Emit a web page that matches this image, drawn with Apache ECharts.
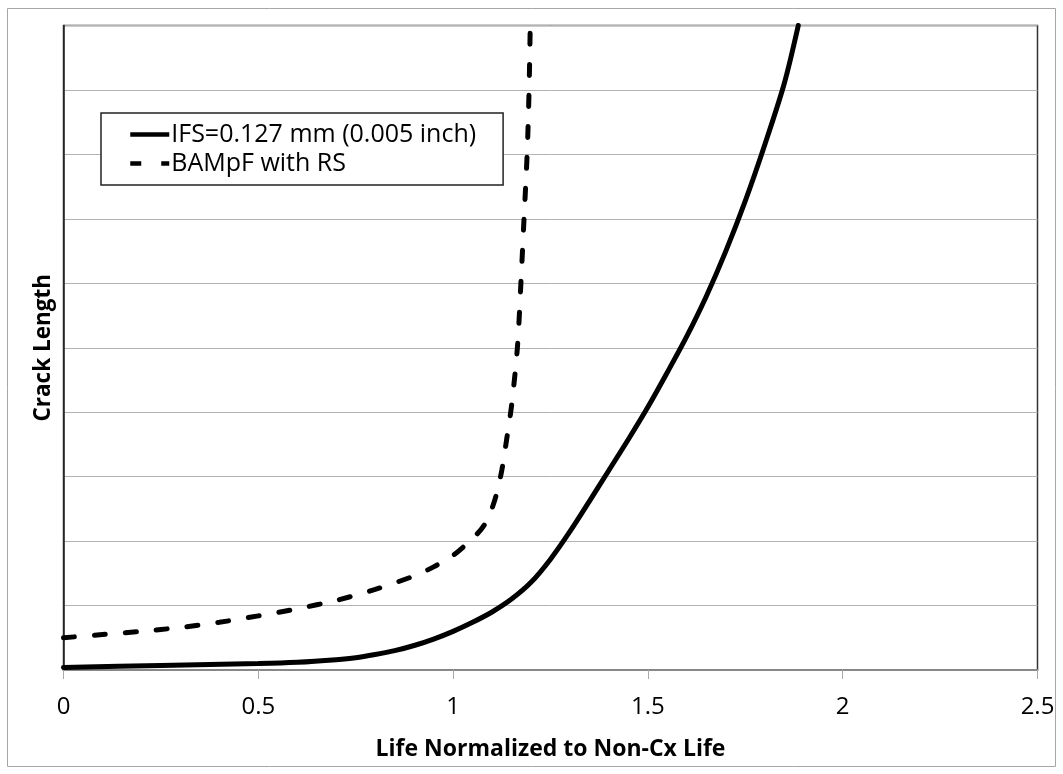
<!DOCTYPE html>
<html lang="en">
<head>
    <meta charset="UTF-8">
    <title>Crack Length</title>
    <script src="https://cdn.jsdelivr.net/npm/echarts@6/dist/echarts.min.js"></script>
    <style>
        html, body { margin: 0; padding: 0; background: #fff; }
        #main { width: 1063px; height: 774px; }
    </style>
</head>
<body>
<div id="main"></div>
<script>
    // x = life normalized to non-Cx life, y = crack length (unlabelled, 0..10 grid)
    var ifsX = [0, 0.25, 0.5, 0.6, 0.7, 0.75, 0.8, 0.85, 0.9, 0.95, 1.0, 1.05, 1.1, 1.15, 1.2, 1.25, 1.3, 1.35, 1.4, 1.45, 1.5, 1.55, 1.6, 1.65, 1.7, 1.75, 1.8, 1.85, 1.886];
    var ifsY = [0.04, 0.07, 0.1, 0.12, 0.16, 0.19, 0.24, 0.3, 0.38, 0.48, 0.6, 0.74, 0.9, 1.1, 1.36, 1.72, 2.15, 2.62, 3.1, 3.58, 4.08, 4.62, 5.18, 5.8, 6.5, 7.28, 8.15, 9.1, 10];

    var bamX = [0, 0.1, 0.2, 0.3, 0.4, 0.5, 0.6, 0.7, 0.8, 0.9, 0.95, 1.0, 1.03, 1.06, 1.08, 1.095, 1.11, 1.125, 1.138, 1.15, 1.165, 1.174, 1.182, 1.19, 1.195, 1.198];
    var bamY = [0.5, 0.55, 0.6, 0.66, 0.74, 0.84, 0.95, 1.08, 1.25, 1.46, 1.6, 1.78, 1.93, 2.1, 2.25, 2.43, 2.7, 3.1, 3.6, 4.1, 5, 6, 7, 8, 9, 10];

    var names = ['IFS=0.127 mm (0.005 inch)', 'BAMpF with RS'];

    function pairs(xs, ys) {
        var out = [];
        for (var i = 0; i < xs.length; i++) out.push([xs[i], ys[i]]);
        return out;
    }

    var font = '"Open Sans", "DejaVu Sans", sans-serif';
    var chart = echarts.init(document.getElementById('main'));

    var option = {
        animation: false,
        backgroundColor: '#fff',
        textStyle: { fontFamily: font, color: '#000' },
        graphic: [{
            type: 'rect',
            shape: { x: 7.5, y: 8.5, width: 1048, height: 758 },
            style: { fill: 'none', stroke: '#a6a6a6', lineWidth: 1 },
            z: -1
        }],
        grid: {
            left: 63.5, right: 25.5, top: 25.5, bottom: 104,
            show: true, borderColor: '#333', borderWidth: 1.5
        },
        legend: {
            orient: 'vertical',
            left: 101, top: 113,
            padding: [7, 27, 7, 27],
            itemGap: 0,
            itemWidth: 39, itemHeight: 14,
            backgroundColor: '#fff',
            borderColor: '#222', borderWidth: 1.5,
            itemStyle: { opacity: 0 },
            lineStyle: { width: 4.5, cap: 'butt' },
            textStyle: { fontFamily: font, fontSize: 25, color: '#000', lineHeight: 29, padding: [0, 0, 0, -3] },
            data: names
        },
        xAxis: {
            type: 'value',
            min: 0, max: 2.5, interval: 0.5,
            name: 'Life Normalized to Non-Cx Life',
            nameLocation: 'middle',
            nameGap: 68,
            nameTextStyle: { fontFamily: font, fontSize: 23, fontWeight: 'bold', color: '#000' },
            axisLine: { show: true, lineStyle: { color: '#888', width: 2 } },
            axisTick: { show: true, length: 9, lineStyle: { color: '#aaa', width: 1 } },
            axisLabel: { fontFamily: font, fontSize: 24, color: '#000', margin: 25 },
            splitLine: { show: false }
        },
        yAxis: {
            type: 'value',
            min: 0, max: 10, interval: 1,
            name: 'Crack Length',
            nameLocation: 'middle',
            nameGap: 8,
            nameTextStyle: { fontFamily: font, fontSize: 22.5, fontWeight: 'bold', color: '#000' },
            axisLine: { show: true, lineStyle: { color: '#222', width: 1.5 } },
            axisTick: { show: false },
            axisLabel: { show: false },
            splitLine: { show: true, lineStyle: { color: '#b3b3b3', width: 1 } }
        },
        series: [{
            name: names[0],
            type: 'line',
            data: pairs(ifsX, ifsY),
            smooth: 0.3,
            symbol: 'none',
            clip: true,
            lineStyle: { color: '#000', width: 5, cap: 'round' },
            itemStyle: { color: '#000' }
        }, {
            name: names[1],
            type: 'line',
            data: pairs(bamX, bamY),
            smooth: 0.3,
            symbol: 'none',
            clip: true,
            lineStyle: { color: '#000', width: 5, type: [11, 20], cap: 'round' },
            itemStyle: { color: '#000' }
        }]
    };

    chart.setOption(option);
</script>
</body>
</html>
